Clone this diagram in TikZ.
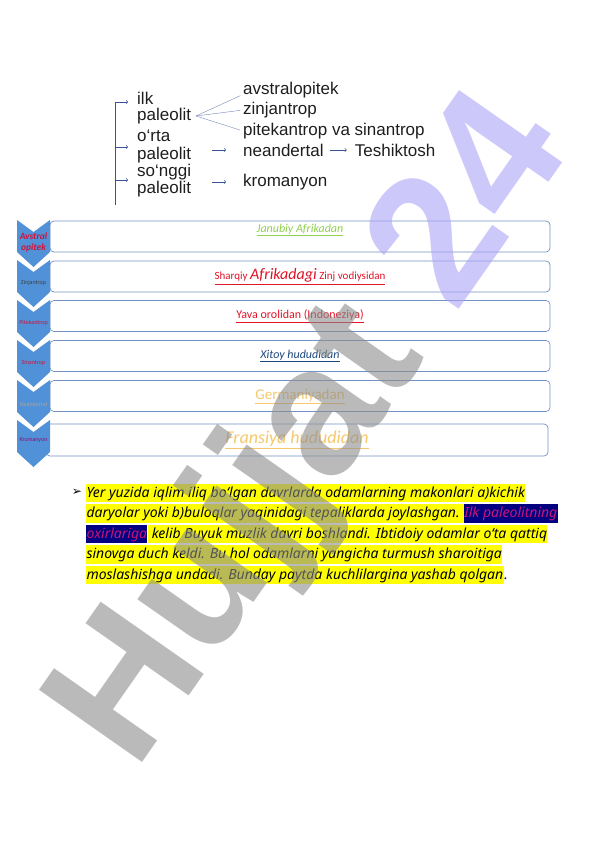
\documentclass[tikz,border=0pt]{standalone}
\usepackage{fontspec}
\usetikzlibrary{positioning}
\setmainfont{Carlito}
\newfontfamily\arialfont{Liberation Sans}
\newfontfamily\notofont{Noto Sans}
\newfontfamily\dingfont{DejaVu Sans}
\newcommand{\fs}[2]{\fontsize{#1}{#2}\selectfont}
\definecolor{schtext}{RGB}{30,30,30}
\definecolor{arrblue}{RGB}{60,80,150}
\definecolor{forkblue}{RGB}{120,135,185}
\definecolor{chevblue}{RGB}{80,145,215}
\definecolor{boxline}{RGB}{115,145,195}
\definecolor{grn}{RGB}{146,208,80}
\definecolor{redc}{RGB}{225,20,40}
\definecolor{darkblue}{RGB}{31,73,125}
\definecolor{paleorange}{RGB}{245,200,110}
\definecolor{avred}{RGB}{205,20,60}
\definecolor{hlyellow}{RGB}{255,255,0}
\definecolor{hlnavy}{RGB}{0,0,128}
\definecolor{hlpink}{RGB}{200,20,120}
\definecolor{wmgrey}{RGB}{140,140,140}
\definecolor{wmlav}{RGB}{172,164,247}
\newcommand{\chev}[1]{\fill[chevblue] (17,#1) -- (33.5,#1+12) -- (50,#1) -- (50,#1+32) -- (33.5,#1+47) -- (17,#1+32) -- cycle;}

\begin{document}
\begin{tikzpicture}[x=1pt,y=-1pt,
    sch/.style={font=\arialfont\fs{17}{19}, text=schtext, inner sep=0pt, anchor=west},
    arr/.style={->, draw=arrblue, semithick},
    fork/.style={draw=forkblue, thin},
    box/.style={draw=boxline, fill=white, rounded corners=4pt, line width=0.7pt, minimum width=500pt, minimum height=31pt},
    lbl/.style={inner sep=0pt},
    tag/.style={font=\fs{6}{7}, inner sep=0pt},
    hl/.style={fill=hlyellow, font=\notofont\itshape\fs{14}{16}, inner xsep=0.3pt, inner ysep=0.5pt, text height=13pt, text depth=4.5pt, anchor=base west},
    hldark/.style={hl, fill=hlnavy, text=hlpink}]
  \useasboundingbox (0,0) rectangle (596,842);

  % scheme of the paleolit
  \coordinate (vtop) at (115,102);
  \coordinate (vbot) at (115,205);
  \coordinate (b2) at (115,147);
  \coordinate (b3) at (115,180);
  \coordinate (a1) at (128,102);
  \coordinate (a2) at (128,147);
  \coordinate (a3) at (128,180);
  \draw [draw=arrblue, semithick] (vtop) -- (vbot);
  \draw [arr] (vtop) -- (a1);
  \draw [arr] (b2) -- (a2);
  \draw [arr] (b3) -- (a3);

  \node [sch] (ilk) at (137,98) {ilk};
  \node [sch] (pal1) at (137,116) {paleolit};
  \node [sch] (orta) at (137,136) {o‘rta};
  \node [sch] (pal2) at (137,155) {paleolit};
  \node [sch] (songgi) at (137,172) {so‘nggi};
  \node [sch] (pal3) at (137,189) {paleolit};

  \node [sch] (avs) at (243,90) {avstralopitek};
  \node [sch] (zin) at (243,110) {zinjantrop};
  \node [sch] (pit) at (243,131) {pitekantrop va sinantrop};
  \node [sch] (nea) at (243,150) {neandertal};
  \node [sch, right=31pt of nea] (tesh) {Teshiktosh};
  \node [sch] (kro) at (243,182) {kromanyon};

  \coordinate (fk) at (196,116);
  \draw [fork, shorten >=3pt] (fk) -- (avs.base west);
  \draw [fork, shorten >=3pt] (fk) -- (zin.west);
  \draw [fork, shorten >=3pt] (fk) -- (pit.west);
  \coordinate (m2) at (212,150);
  \coordinate (m2e) at (226,150);
  \coordinate (m3) at (212,182);
  \coordinate (m3e) at (226,182);
  \draw [arr] (m2) -- (m2e);
  \draw [arr] (m3) -- (m3e);
  \draw [arr, shorten <=6pt, shorten >=8pt] (nea) -- (tesh);

  % boxes
  \node [box] (box1) at (300,236.5) {};
  \node [box] (box2) at (300,276.5) {};
  \node [box] (box3) at (300,316) {};
  \node [box] (box4) at (300,356) {};
  \node [box] (box5) at (300,396) {};
  \node [box, minimum width=502pt, minimum height=32pt] (box6) at (297,440) {};

  \node [lbl, below=3pt of box1.north, text=grn, font=\itshape\fs{12}{14}] (l1) {\underline{Janubiy Afrikadan}};
  \node [lbl, text=redc] (l2) at (box2) {\underline{{\fs{11}{13}Sharqiy }{\itshape\fs{16}{18}Afrikadagi}{\fs{11}{13} Zinj vodiysidan}}};
  \node [lbl, text=redc, font=\fs{12}{14}] (l3) at (box3) {\underline{Yava orolidan (Indoneziya)}};
  \node [lbl, text=darkblue, font=\itshape\fs{12}{14}] (l4) at (box4) {\underline{Xitoy hududidan}};
  \node [lbl, text=paleorange, font=\fs{15}{17}] (l5) at (box5) {\underline{Germaniyadan}};
  \node [lbl, text=paleorange, font=\itshape\fs{18}{20}] (l6) at (box6) {\underline{Fransiya hududidan}};

  % chevrons
  \chev{220}
  \chev{260}
  \chev{300}
  \chev{340}
  \chev{380}
  \chev{420}
  \node [tag, font=\bfseries\itshape\fs{9.5}{11}, text=avred, align=center] (t1) at (33.5,242) {Avstral\\opitek};
  \node [tag, text=black!75] (t2) at (33.5,283) {Zinjantrop};
  \node [tag, text=avred] (t3) at (33.5,323) {Pitekantrop};
  \node [tag, text=avred] (t4) at (33.5,363) {Sinantrop};
  \node [tag, text=black!35] (t5) at (33.5,404) {Neandertal};
  \node [tag, text=avred!70!blue] (t6) at (33.5,440) {Kromanyon};

  % text
  \node [font=\dingfont\fs{12}{14}, inner sep=0pt] (bul) at (77,492) {➢};
  \node [hl] (p1) at (86,497) {Yer yuzida iqlim iliq bo‘lgan davrlarda odamlarning makonlari a)kichik};
  \node [hl] (p2a) at (86,517.5) {daryolar yoki b)buloqlar yaqinidagi tepaliklarda joylashgan.\kern0.26em};
  \node [hldark, right=0pt of p2a] (p2b) {Ilk paleolitning};
  \node [hldark] (p3a) at (86,538) {oxirlariga};
  \node [hl, right=0pt of p3a] (p3b) {\kern0.26em kelib Buyuk muzlik davri boshlandi. Ibtidoiy odamlar o‘ta qattiq};
  \node [hl] (p4) at (86,558.5) {sinovga duch keldi. Bu hol odamlarni yangicha turmush sharoitiga};
  \node [hl] (p5) at (86,579) {moslashishga undadi. Bunday paytda kuchlilargina yashab qolgan};
  \node [hl, fill=none, right=0pt of p5] (p5e) {.};

  % watermark
  \node [rotate=55, font=\arialfont\bfseries\fs{183}{183}, inner sep=0pt, text opacity=0.6] (wm) at (315,433) {\textcolor{wmgrey}{Hujjat} \textcolor{wmlav}{24}};
\end{tikzpicture}
\end{document}
